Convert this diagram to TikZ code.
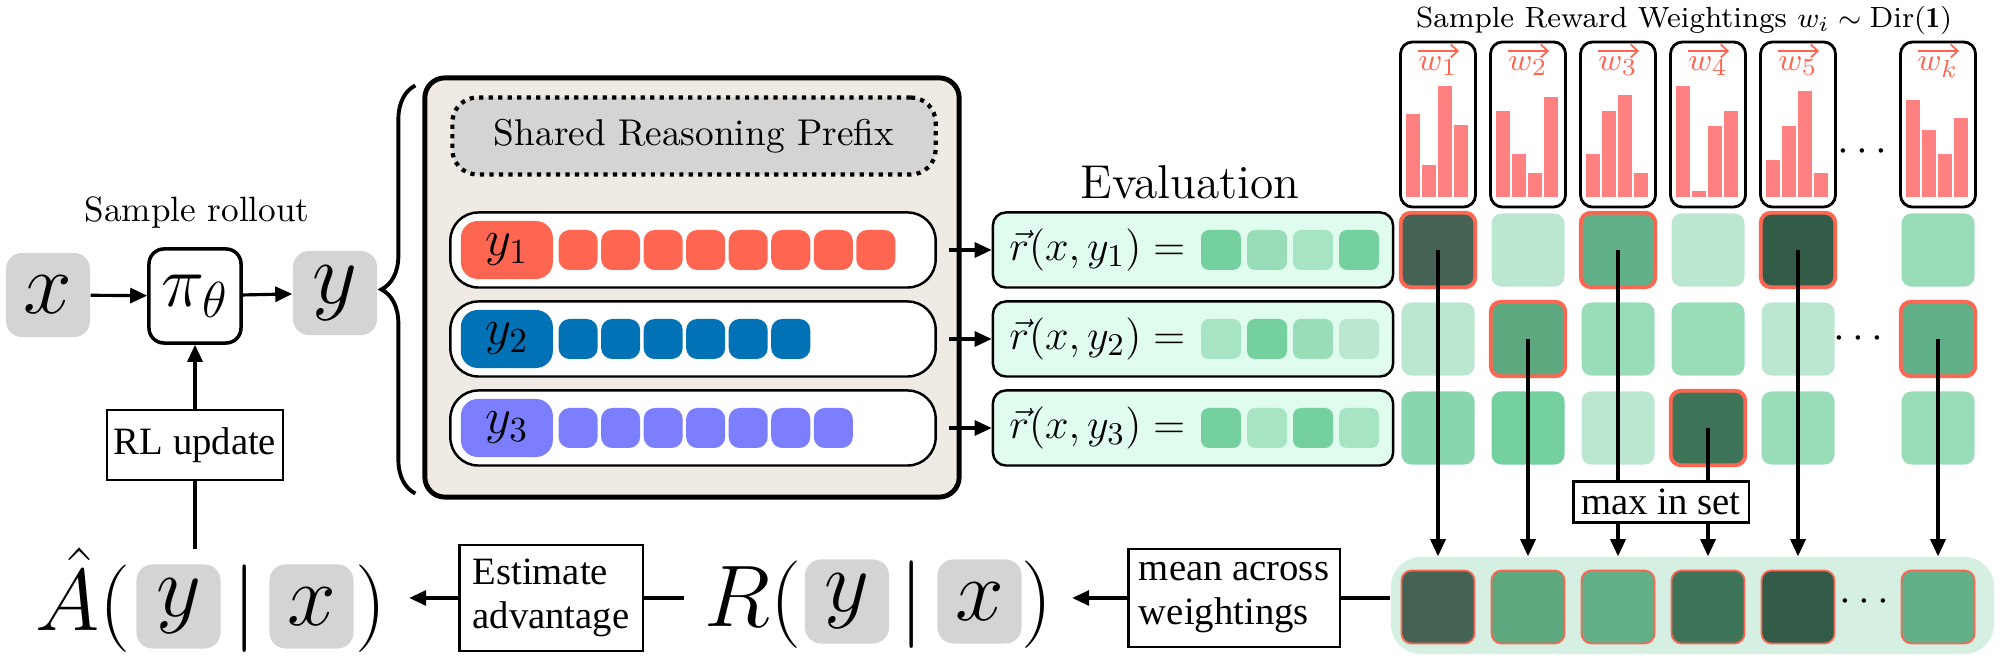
\documentclass[tikz,border=0pt]{standalone}
\usepackage{amsmath}
\usepackage{fontspec}
\newfontfamily\boxfont{Liberation Serif}
\usetikzlibrary{arrows.meta,positioning,decorations.pathreplacing}
\definecolor{RollRed}{RGB}{255,102,82}
\definecolor{RollBlue}{RGB}{0,114,181}
\definecolor{RollPurple}{RGB}{123,127,255}
\definecolor{BarRed}{RGB}{255,128,128}
\definecolor{GrayBox}{RGB}{212,212,212}
\definecolor{PanelBeige}{RGB}{239,234,228}
\definecolor{EvalMint}{RGB}{224,252,238}
\definecolor{PanelMint}{RGB}{213,240,226}
\definecolor{GA}{RGB}{187,231,209}
\definecolor{GB}{RGB}{167,228,196}
\definecolor{GC}{RGB}{152,221,184}
\definecolor{GD}{RGB}{136,214,173}
\definecolor{GE}{RGB}{117,208,159}
\definecolor{GF}{RGB}{98,176,136}
\definecolor{GG}{RGB}{93,168,126}
\definecolor{GH}{RGB}{62,117,89}
\definecolor{GI}{RGB}{69,99,85}
\definecolor{GJ}{RGB}{50,92,72}

\begin{document}
\begin{tikzpicture}[x=0.01cm, y=-0.01cm,
    arr/.style={-{Triangle[length=0.17cm,width=0.15cm]}, line width=0.9pt},
    link/.style={line width=0.9pt},
    warr/.style={draw=RollRed, line width=0.5pt, -{Straight Barb[length=0.07cm,width=0.13cm]}},
    gbox/.style={fill=GrayBox, rounded corners=0.16cm, minimum width=0.84cm, minimum height=0.84cm, inner sep=0pt, font=\fontsize{25}{25}\selectfont},
    pibox/.style={draw, line width=1pt, rounded corners=0.15cm, minimum width=0.92cm, minimum height=0.94cm, inner sep=0pt, font=\fontsize{22}{22}\selectfont},
    opbox/.style={draw, line width=0.6pt, align=left, inner sep=0.07cm, font=\boxfont\fontsize{11}{12.5}\selectfont},
    mtxt/.style={inner sep=0pt, font=\fontsize{24}{24}\selectfont},
    rowbox/.style={draw, line width=0.7pt, fill=white, rounded corners=0.28cm, minimum width=4.85cm, minimum height=0.75cm},
    ylab/.style={rounded corners=0.17cm, minimum width=0.92cm, minimum height=0.58cm, inner sep=0pt, font=\fontsize{14}{14}\selectfont},
    tok/.style={rounded corners=0.11cm, minimum width=0.39cm, minimum height=0.40cm, inner sep=0pt},
    evalbox/.style={draw, line width=0.7pt, fill=EvalMint, rounded corners=0.13cm, minimum width=4.0cm, minimum height=0.75cm},
    esq/.style={rounded corners=0.08cm, minimum size=0.40cm, inner sep=0pt},
    wbox/.style={draw, line width=0.8pt, rounded corners=0.12cm, minimum width=0.75cm, minimum height=1.65cm},
    gsq/.style={rounded corners=0.1cm, minimum size=0.73cm, inner sep=0pt},
    hl/.style={draw=RollRed, line width=1.1pt, rounded corners=0.1cm},
    dotsym/.style={inner sep=0pt, font=\fontsize{13}{13}\selectfont}
  ]
  \useasboundingbox (0,0) rectangle (2000,662);

  % sampling loop
  \node[gbox] (xin) at (48,295) {$x$};
  \node[pibox] (pol) at (195,296) {$\pi_\theta$};
  \node[gbox] (yout) at (335,293) {$y$};
  \node[font=\fontsize{10}{12}\selectfont] (roll) at (197,213) {Sample rollout};
  \node[opbox, minimum width=1.75cm, minimum height=0.7cm] (rlup) at (195,445) {RL update};
  \coordinate (tail) at (195,549);
  \draw[arr] (xin) -- (pol);
  \draw[arr] (pol) -- (yout);
  \draw[link] (tail) -- (rlup);
  \draw[arr] (rlup) -- (pol);

  % rollout group
  \node[draw, line width=1.4pt, fill=PanelBeige, rounded corners=0.2cm, minimum width=5.34cm, minimum height=4.19cm] (grp) at (692,287.5) {};
  \draw[decorate, decoration={brace, amplitude=0.34cm}, line width=1.1pt] ([xshift=-0.07cm, yshift=0.06cm]grp.south west) -- ([xshift=-0.07cm, yshift=-0.1cm]grp.north west);
  \node[draw, line width=1.2pt, dash pattern=on 1.2pt off 1.5pt, fill=GrayBox, rounded corners=0.25cm, minimum width=4.83cm, minimum height=0.77cm, font=\fontsize{10.6}{13}\selectfont] (pre) at (694,136) {Shared Reasoning Prefix};
  \node[font=\fontsize{13.5}{15}\selectfont] (evtitle) at (1190,182) {Evaluation};

  \foreach \r/\yy/\col/\n/\cols in {1/250/RollRed/8/{GE,GC,GB,GE}, 2/339/RollBlue/6/{GB,GE,GC,GA}, 3/428/RollPurple/7/{GE,GB,GE,GB}} {
    \node[rowbox] (row\r) at (693,\yy) {};
    \node[ylab, fill=\col, right=0.11cm of row\r.west] (y\r) {$y_\r$};
    \foreach \j in {1,...,\n}
      \node[tok, fill=\col] (tk\r\j) at ([xshift=0.245cm+(\j-1)*0.425cm]y\r.east) {};
    \node[evalbox] (ev\r) at (1193,\yy) {};
    \node[anchor=west, inner sep=0pt, font=\fontsize{13}{13}\selectfont] (eq\r) at ([xshift=0.17cm]ev\r.west) {$\vec{r}(x,y_\r) =$};
    \foreach \c [count=\j] in \cols
      \node[esq, fill=\c] (es\r\j) at (1221+\j*46-46,\yy) {};
    \draw[arr, shorten <=0.12cm] (row\r) -- (ev\r);
  }

  % reward weightings
  \node[inner sep=0pt, font=\fontsize{8.3}{10}\selectfont] (wtitle) at (1684,20) {Sample Reward Weightings $w_i \sim \mathrm{Dir}(\mathbf{1})$};
  \foreach \c/\lab/\ha/\hb/\hc/\hd [count=\i] in {1438/1/83/32/111/72, 1528/2/86/43/24/100, 1618/3/43/86/102/24, 1708/4/111/6/71/86, 1798/5/37/71/106/24, 1938/k/97/67/43/79} {
    \node[wbox] (w\i) at (\c,124.5) {};
    \node[text=RollRed, inner sep=0pt, anchor=base, font=\fontsize{9.5}{10}\selectfont] (wl\i) at (\c,71) {$w_{\lab}$};
    \draw[warr] ([xshift=-0.2cm, yshift=0.2cm]wl\i.base) -- ([xshift=0.21cm, yshift=0.2cm]wl\i.base);
    \foreach \h [count=\j] in {\ha,\hb,\hc,\hd}
      \fill[BarRed] (\c-48+\j*16,197) rectangle ++(13.5,-\h);
  }
  \node[dotsym] (dw) at (1866,152) {$\cdots$};

  % weighted scores
  \node[fill=PanelMint, rounded corners=0.3cm, minimum width=6.03cm, minimum height=0.97cm] (pan) at (1692.5,605.5) {};
  \foreach \c/\ca/\cb/\cc/\cd [count=\i] in {1438/GI/GA/GD/GI, 1528/GA/GG/GE/GG, 1618/GF/GC/GA/GF, 1708/GA/GC/GH/GH, 1798/GJ/GA/GC/GJ, 1938/GC/GF/GC/GF} {
    \node[gsq, fill=\ca] (ga\i) at (\c,250) {};
    \node[gsq, fill=\cb] (gb\i) at (\c,339) {};
    \node[gsq, fill=\cc] (gc\i) at (\c,428) {};
    \node[gsq, fill=\cd, draw=RollRed, line width=0.5pt] (s\i) at (\c,607) {};
  }
  \foreach \n in {ga1,ga3,ga5,gb2,gb6,gc4}
    \draw[hl] (\n.north west) rectangle (\n.south east);
  \node[dotsym] (dg) at (1862,339) {$\cdots$};
  \node[dotsym] (db) at (1868,602) {$\cdots$};

  \node[opbox, minimum width=1.75cm, minimum height=0.41cm] (maxs) at (1661,502) {max in set};
  \foreach \n in {ga1,gb2,ga5,gb6}
    \draw[arr] (\n.center) -- (\n.center |- pan.north);
  \foreach \n in {ga3,gc4} {
    \draw[link] (\n.center) -- (\n.center |- maxs.north);
    \draw[arr] (\n.center |- maxs.south) -- (\n.center |- pan.north);
  }

  % aggregation and advantage
  \node[opbox, minimum width=2.11cm, minimum height=0.98cm] (mean) at (1234,598) {mean across\\weightings};
  \node[gbox] (ry) at (847,601.5) {$y$};
  \node[gbox] (rx) at (979.5,601.5) {$x$};
  \node[mtxt, anchor=base east] (rlhs) at (802,627) {$R($};
  \node[mtxt, anchor=base] (rbar) at (912,627) {$|$};
  \node[mtxt, anchor=base] (rrp) at (1037,627) {$)$};
  \node[opbox, minimum width=1.83cm, minimum height=1.06cm] (est) at (551,598) {Estimate\\advantage};
  \node[gbox] (ay) at (178.5,606.5) {$y$};
  \node[gbox] (ax) at (311.5,606.5) {$x$};
  \node[mtxt, anchor=base east] (ahl) at (131,631) {$\hat{A}($};
  \node[mtxt, anchor=base] (abar) at (245,631) {$|$};
  \node[mtxt, anchor=base] (arp) at (371,631) {$)$};
  \draw[link] (mean.east) -- (mean.east -| pan.west);
  \draw[arr, shorten >=0.19cm] (mean.west) -- (mean.west -| rrp.east);
  \draw[link, shorten >=0.2cm] (est.east) -- (est.east -| rlhs.west);
  \draw[arr, shorten >=0.22cm] (est.west) -- (est.west -| arp.east);
\end{tikzpicture}
\end{document}
